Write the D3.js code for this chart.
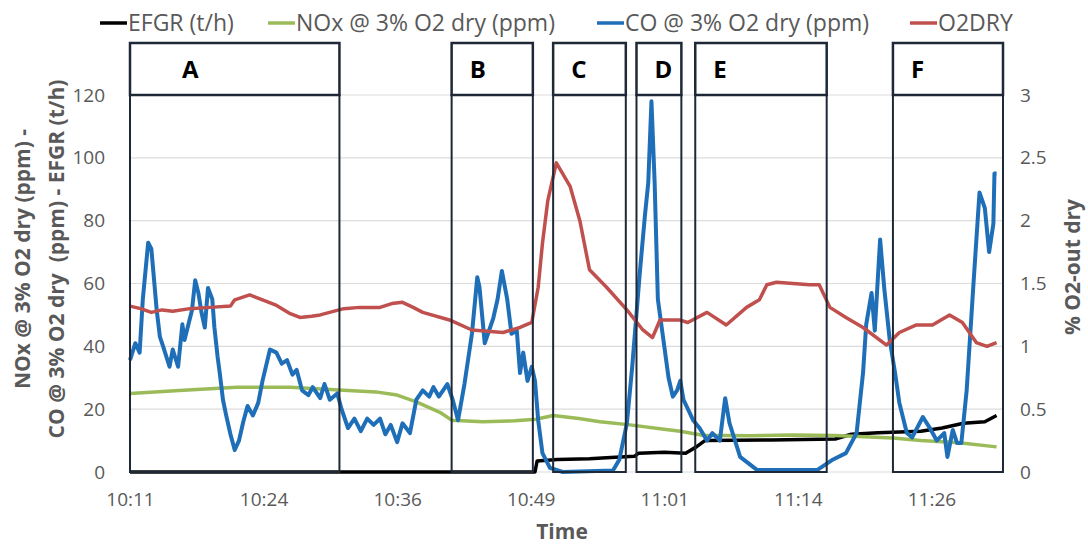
<!DOCTYPE html>
<html>
<head>
<meta charset="utf-8">
<script src="https://cdn.jsdelivr.net/npm/d3@7"></script>
<style>
body { margin: 0; background: #fff; }
text { font-family: "Open Sans", sans-serif; }
</style>
</head>
<body>
<div id="chart-area"></div>
<script>
// minutes after 10:11
var tickMinutes = [0, 12.5, 25, 37.5, 50, 62.5, 75];
var tickLabels = ["10:11", "10:24", "10:36", "10:49", "11:01", "11:14", "11:26"];
var leftTicks = [0, 20, 40, 60, 80, 100, 120];
var rightTicks = [0, 0.5, 1, 1.5, 2, 2.5, 3];

var boxLabels = ["A", "B", "C", "D", "E", "F"];
var boxStart = [0, 30.1, 39.6, 47.4, 52.9, 71.4];
var boxEnd = [19.6, 37.7, 46.4, 51.6, 65.2, 81.7];

var efgrT = [0, 37.9, 38.1, 40, 43, 45, 47.2, 47.6, 50, 52, 53, 53.8, 60, 66, 67.5, 70, 74, 76, 78, 80, 81.1];
var efgrV = [0, 0, 3.5, 4, 4.2, 4.6, 5, 6, 6.3, 6, 8, 10, 10.2, 10.5, 12, 12.5, 13, 14, 15.5, 16, 18];

var noxT = [0, 5, 10, 15, 20, 23, 25, 26.8, 29, 30.1, 33, 36, 38, 39.6, 42, 44, 46.8, 49.6, 51.5, 53.6, 58, 62, 66, 71.4, 74, 77.6, 81.1];
var noxV = [25, 26, 27, 27, 26, 25.5, 24.5, 22.3, 19, 16.5, 16, 16.3, 16.8, 18, 17, 16, 15, 13.8, 13, 11.7, 11.5, 11.8, 11.6, 10.8, 10, 9.3, 8];

var coT = [0, 0.5, 0.9, 1.2, 1.7, 2.0, 2.5, 2.8, 3.1, 3.7, 4.0, 4.5, 4.9, 5.1, 5.8, 6.1, 6.4, 6.7, 7.0, 7.3, 7.7, 7.9, 8.2, 8.4, 8.7, 9.0, 9.4, 9.8, 10.2, 10.6, 11.0, 11.5, 12.0, 12.4, 13.1, 13.7, 14.2, 14.7, 15.2, 15.6, 16.1, 16.7, 17.1, 17.8, 18.2, 18.7, 19.4, 19.8, 20.4, 21.0, 21.6, 22.2, 22.8, 23.4, 23.9, 24.4, 25.0, 25.5, 26.2, 26.8, 27.4, 28.0, 28.4, 28.9, 29.3, 29.7, 30.2, 30.7, 31.3, 32.0, 32.5, 32.7, 33.2, 33.5, 34.0, 34.4, 34.8, 35.3, 35.7, 36.2, 36.5, 36.8, 37.2, 37.6, 37.9, 38.2, 38.6, 39.3, 40.5, 45.2, 45.8, 46.5, 47.0, 47.7, 48.2, 48.5, 48.8, 49.1, 49.4, 50.0, 50.4, 50.8, 51.2, 51.5, 51.8, 52.7, 53.3, 54.0, 54.5, 55.2, 55.7, 56.1, 57.1, 58.7, 64.3, 65.8, 67.0, 68.0, 68.6, 68.9, 69.4, 69.7, 70.2, 70.6, 71.1, 71.6, 72.0, 72.7, 73.2, 74.2, 74.8, 75.5, 76.2, 76.5, 77.0, 77.4, 77.8, 78.3, 78.9, 79.5, 80.0, 80.4, 80.8, 80.9, 81.1];
var coV = [35.6, 41, 38, 55, 73, 71, 51.5, 43, 40, 33.5, 39, 33.5, 47, 42, 51.5, 61, 57, 50.6, 46, 58.6, 55, 46, 36.6, 31.5, 23, 18, 12, 7, 10, 16, 21, 18, 22, 29, 39, 38, 34.5, 35.6, 31, 32.5, 26, 24.5, 27, 23.5, 28, 23, 25, 20, 14, 17, 13, 17, 15, 17, 12, 15, 9.5, 15.5, 12.4, 23, 26, 24, 27, 24, 26, 28, 23, 16.5, 28, 44, 62, 59, 41, 44, 49, 55, 64, 55, 44, 45, 31.5, 38, 29, 33.5, 29, 16.5, 6, 1.3, 0, 0.5, 4, 15.5, 33.5, 63, 82, 92, 118, 92, 55, 40, 30, 24, 26, 29, 23, 16.5, 14, 10, 12.4, 10, 23.5, 15.6, 4.8, 0.6, 0.6, 4, 6, 12.4, 31.5, 47, 57, 45, 74, 58, 42, 31.5, 22, 12.4, 11, 17.5, 14.3, 10, 12.4, 4.8, 13.4, 9.2, 9.2, 26, 58, 89, 84, 70, 79, 95, 95];

var o2T = [0, 1, 2, 3, 4, 5.6, 7.5, 9.4, 9.8, 11.2, 12.4, 13.6, 15.0, 15.9, 17.0, 17.8, 20, 21.5, 23.4, 24.5, 25.5, 26.5, 27.4, 29.9, 32.0, 34.9, 36.5, 37.6, 38.2, 38.6, 39.1, 39.9, 41.2, 42.1, 43.0, 44.6, 46.5, 48.0, 48.9, 49.6, 51.4, 52.2, 54.0, 55.8, 57.7, 58.9, 59.6, 60.5, 63.6, 64.5, 65.5, 67.0, 68.6, 70.8, 72.0, 73.6, 75.1, 76.7, 77.9, 79.2, 80.2, 81.1];
var o2V = [1.32, 1.30, 1.27, 1.29, 1.28, 1.30, 1.31, 1.32, 1.37, 1.41, 1.37, 1.33, 1.26, 1.23, 1.24, 1.25, 1.30, 1.31, 1.31, 1.34, 1.35, 1.31, 1.27, 1.21, 1.13, 1.11, 1.15, 1.19, 1.47, 1.82, 2.16, 2.46, 2.27, 2.0, 1.61, 1.47, 1.29, 1.13, 1.07, 1.21, 1.21, 1.19, 1.27, 1.17, 1.31, 1.37, 1.49, 1.51, 1.49, 1.49, 1.31, 1.23, 1.15, 1.01, 1.11, 1.17, 1.17, 1.25, 1.19, 1.03, 1.0, 1.03];

var seriesNames = ["EFGR (t/h)", "NOx @ 3% O2 dry (ppm)", "CO @ 3% O2 dry (ppm)", "O2DRY"];
var seriesColors = ["#000000", "#9bbb59", "#1f6fb8", "#c0504d"];

var width = 1088;
var height = 546;
var margin = {top: 95, right: 85, bottom: 74, left: 130};
var gray = "#595959";

var svg = d3.select("#chart-area").append("svg")
	.attr("width", width)
	.attr("height", height);

var x = d3.scaleLinear().domain([0, 81.7]).range([margin.left, width - margin.right]);
var y = d3.scaleLinear().domain([0, 120]).range([height - margin.bottom, margin.top]);
var y2 = d3.scaleLinear().domain([0, 3]).range([height - margin.bottom, margin.top]);

// gridlines
svg.append("g").selectAll("line")
	.data(leftTicks)
	.enter().append("line")
		.attr("x1", x(0)).attr("x2", x(81.7))
		.attr("y1", d => y(d)).attr("y2", d => y(d))
		.attr("stroke", "#dcdcdc")
		.attr("stroke-width", 1.2);

// left axis
var leftAxis = d3.axisLeft(y).tickValues(leftTicks).tickSize(0).tickPadding(25);
var gl = svg.append("g")
	.attr("transform", "translate(" + x(0) + ",0)")
	.call(leftAxis);
gl.select(".domain").remove();
gl.selectAll("text").attr("font-size", "19px").attr("fill", gray).attr("font-family", "Open Sans");

var rightAxis = d3.axisRight(y2).tickValues(rightTicks).tickSize(0).tickPadding(17)
	.tickFormat(d3.format("~g"));
var gr = svg.append("g")
	.attr("transform", "translate(" + x(81.7) + ",0)")
	.call(rightAxis);
gr.select(".domain").remove();
gr.selectAll("text").attr("font-size", "19px").attr("fill", gray).attr("font-family", "Open Sans");

var bottomAxis = d3.axisBottom(x).tickValues(tickMinutes).tickSize(0).tickPadding(21)
	.tickFormat((d, i) => tickLabels[i]);
var gb = svg.append("g")
	.attr("transform", "translate(0," + y(0) + ")")
	.call(bottomAxis);
gb.select(".domain").remove();
gb.selectAll("text").attr("font-size", "19px").attr("fill", gray).attr("font-family", "Open Sans");

// series
function pairs(t, v) { return t.map((d, i) => [d, v[i]]); }
var line1 = d3.line().x(d => x(d[0])).y(d => y(d[1]));
var line2 = d3.line().x(d => x(d[0])).y(d => y2(d[1]));

svg.append("path").datum(pairs(efgrT, efgrV)).attr("d", line1)
	.attr("fill", "none").attr("stroke", seriesColors[0]).attr("stroke-width", 3.5).attr("stroke-linejoin", "round");
svg.append("path").datum(pairs(noxT, noxV)).attr("d", line1)
	.attr("fill", "none").attr("stroke", seriesColors[1]).attr("stroke-width", 3.5).attr("stroke-linejoin", "round");
svg.append("path").datum(pairs(coT, coV)).attr("d", line1)
	.attr("fill", "none").attr("stroke", seriesColors[2]).attr("stroke-width", 4).attr("stroke-linejoin", "round");
svg.append("path").datum(pairs(o2T, o2V)).attr("d", line2)
	.attr("fill", "none").attr("stroke", seriesColors[3]).attr("stroke-width", 3.5).attr("stroke-linejoin", "round");

// boxes
var boxes = svg.append("g").selectAll("g")
	.data(boxLabels)
	.enter().append("g");
boxes.append("rect")
	.attr("x", (d, i) => x(boxStart[i]))
	.attr("y", y(120))
	.attr("width", (d, i) => x(boxEnd[i]) - x(boxStart[i]))
	.attr("height", y(0) - y(120))
	.attr("fill", "none")
	.attr("stroke", "#1e2836")
	.attr("stroke-width", 2);
boxes.append("rect")
	.attr("x", (d, i) => x(boxStart[i]))
	.attr("y", y(120) - 52)
	.attr("width", (d, i) => x(boxEnd[i]) - x(boxStart[i]))
	.attr("height", 52)
	.attr("fill", "#fff")
	.attr("stroke", "#1e2836")
	.attr("stroke-width", 2.5);
boxes.append("text")
	.attr("x", (d, i) => x(boxStart[i]) + (x(boxEnd[i]) - x(boxStart[i]) > 180 ? 52 : 18))
	.attr("y", y(120) - 17)
	.attr("font-size", "24px")
	.attr("font-weight", "bold")
	.attr("fill", "#000")
	.text(d => d);

// legend
var legendX = [100, 268, 597, 910];
var legend = svg.append("g").selectAll("g")
	.data(seriesNames)
	.enter().append("g")
		.attr("transform", (d, i) => "translate(" + legendX[i] + ",0)");
legend.append("line")
	.attr("x1", 0).attr("x2", 27).attr("y1", 23).attr("y2", 23)
	.attr("stroke", (d, i) => seriesColors[i])
	.attr("stroke-width", 3.5);
legend.append("text")
	.attr("x", 28).attr("y", 31)
	.attr("font-size", "23px")
	.attr("fill", gray)
	.text(d => d);

// axis titles
svg.append("text")
	.attr("transform", "translate(30,259) rotate(-90)")
	.attr("text-anchor", "middle")
	.attr("font-size", "21px").attr("font-weight", "bold").attr("fill", gray)
	.text("NOx @ 3% O2 dry (ppm) -");
svg.append("text")
	.attr("transform", "translate(64,259) rotate(-90)")
	.attr("text-anchor", "middle")
	.attr("font-size", "21px").attr("font-weight", "bold").attr("fill", gray)
	.attr("xml:space", "preserve")
	.style("white-space", "pre")
	.text("CO @ 3% O2 dry  (ppm) - EFGR (t/h)");
svg.append("text")
	.attr("transform", "translate(1080,267) rotate(-90)")
	.attr("text-anchor", "middle")
	.attr("font-size", "21px").attr("font-weight", "bold").attr("fill", gray)
	.text("% O2-out dry");
svg.append("text")
	.attr("x", 562).attr("y", 539)
	.attr("text-anchor", "middle")
	.attr("font-size", "21px").attr("font-weight", "bold").attr("fill", gray)
	.text("Time");
</script>
</body>
</html>
